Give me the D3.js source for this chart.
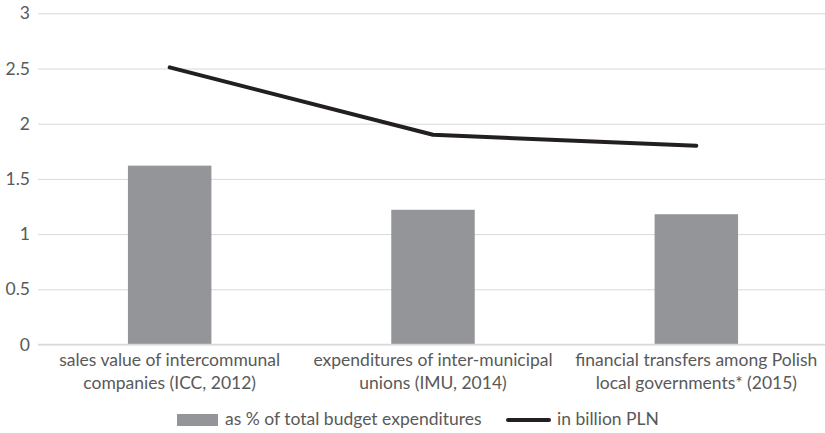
<!DOCTYPE html>
<html>
<head>
<meta charset="utf-8">
<script src="https://cdn.jsdelivr.net/npm/d3@7"></script>
<style>
  html, body { margin: 0; padding: 0; background: #fff; }
  svg { display: block; }
  text { font-family: Lato, "Open Sans", sans-serif; fill: #595959; }
</style>
</head>
<body>
<svg id="chart" width="825" height="433"></svg>
<script>
// Categories (each label split over two lines)
const categories = [
  ["sales value of intercommunal", "companies (ICC, 2012)"],
  ["expenditures of inter-municipal", "unions (IMU, 2014)"],
  ["financial transfers among Polish", "local governments* (2015)"]
];
// Bars: share of total budget expenditures (%)
const pctBudget = [1.62, 1.22, 1.18];
// Line: value in billion PLN
const billionPLN = [2.51, 1.90, 1.80];
// Y-axis ticks
const yTicks = [0, 0.5, 1, 1.5, 2, 2.5, 3];
const seriesNames = ["as % of total budget expenditures", "in billion PLN"];

const FS = 17.5;
const svg = d3.select("#chart");
const plot = { left: 38, right: 828, top: 13.3, bottom: 344.5 };

const x = d3.scaleBand()
  .domain(d3.range(categories.length))
  .range([plot.left, plot.right])
  .paddingInner(0.683)
  .paddingOuter(0.3415);

const y = d3.scaleLinear().domain([0, 3]).range([plot.bottom, plot.top]);

// Horizontal gridlines and y labels
const yAxis = d3.axisLeft(y)
  .tickValues(yTicks)
  .tickSize(-(825 - plot.left))
  .tickPadding(8)
  .tickFormat(d3.format("~g"));

const gy = svg.append("g")
  .attr("transform", `translate(${plot.left},0)`)
  .call(yAxis);
gy.select(".domain").remove();
gy.selectAll(".tick line").attr("stroke", "#d9d9d9").attr("stroke-width", 1);
gy.selectAll(".tick text")
  .attr("font-size", FS)
  .attr("fill", "#595959")
  .style("font-family", "Lato, 'Open Sans', sans-serif");

// Bars
svg.append("g").selectAll("rect")
  .data(pctBudget)
  .join("rect")
  .attr("x", (d, i) => x(i))
  .attr("width", x.bandwidth())
  .attr("y", d => y(d))
  .attr("height", d => y(0) - y(d))
  .attr("fill", "#939598");

// Baseline
svg.append("line")
  .attr("x1", plot.left).attr("x2", 825)
  .attr("y1", y(0)).attr("y2", y(0))
  .attr("stroke", "#d9d9d9").attr("stroke-width", 1.5);

// Line series
const line = d3.line()
  .x((d, i) => x(i) + x.bandwidth() / 2)
  .y(d => y(d));

svg.append("path")
  .datum(billionPLN)
  .attr("d", line)
  .attr("fill", "none")
  .attr("stroke", "#231f20")
  .attr("stroke-width", 4)
  .attr("stroke-linecap", "round")
  .attr("stroke-linejoin", "round");

// Category labels
const gx = svg.append("g");
categories.forEach((lines, i) => {
  const t = gx.append("text")
    .attr("x", x(i) + x.bandwidth() / 2)
    .attr("y", 366)
    .attr("text-anchor", "middle")
    .attr("font-size", FS);
  lines.forEach((s, j) => {
    t.append("tspan")
      .attr("x", x(i) + x.bandwidth() / 2)
      .attr("dy", j === 0 ? 0 : 23)
      .text(s);
  });
});

// Legend
const lg = svg.append("g");
lg.append("rect")
  .attr("x", 177).attr("y", 414).attr("width", 41).attr("height", 12)
  .attr("fill", "#939598");
lg.append("text")
  .attr("x", 225).attr("y", 425)
  .attr("font-size", FS)
  .text(seriesNames[0]);
lg.append("line")
  .attr("x1", 508).attr("x2", 549).attr("y1", 420).attr("y2", 420)
  .attr("stroke", "#231f20").attr("stroke-width", 4)
  .attr("stroke-linecap", "round");
lg.append("text")
  .attr("x", 557).attr("y", 425)
  .attr("font-size", FS)
  .text(seriesNames[1]);
</script>
</body>
</html>
